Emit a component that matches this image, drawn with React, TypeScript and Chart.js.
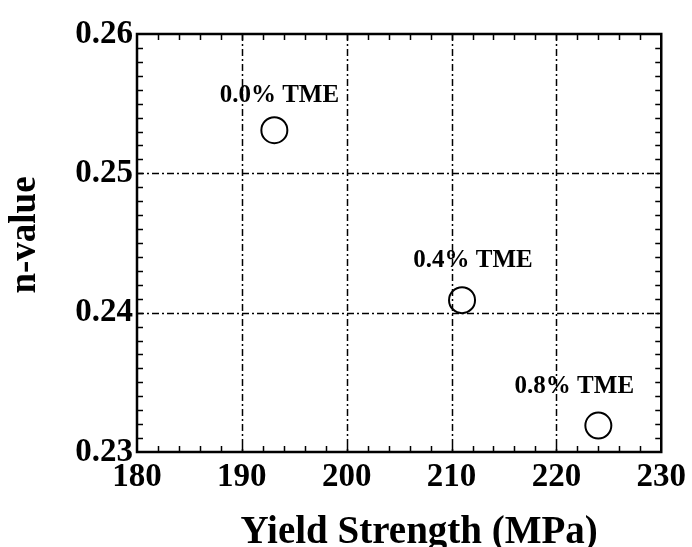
import React, { useEffect, useRef } from "react";
import { Chart, registerables } from "chart.js";

Chart.register(...registerables);

const yieldStrength = [193.1, 211.0, 224.0];
const nValue = [0.2531, 0.2409, 0.2319];
const pointLabels = ["0.0% TME", "0.4% TME", "0.8% TME"];
const xTicks = [180, 190, 200, 210, 220, 230];
const yTicks = [0.23, 0.24, 0.25, 0.26];
const xTitle = "Yield Strength (MPa)";
const yTitle = "n-value";

// pixel offsets of each annotation relative to its point
const labelOffsets = [
  [5, -28],
  [11, -33],
  [-24, -33],
];

const FONT = "'Liberation Serif', 'Times New Roman', serif";

const framePlugin = {
  id: "frame",
  beforeDatasetsDraw(chart: any) {
    const { ctx, chartArea: a, scales } = chart;
    const x = scales.x;
    const y = scales.y;
    ctx.save();
    ctx.strokeStyle = "#000";
    ctx.lineWidth = 1.5;
    ctx.setLineDash([7, 3, 2, 3]);
    for (const v of xTicks.slice(1, -1)) {
      const px = Math.round(x.getPixelForValue(v)) + 0.5;
      ctx.beginPath();
      ctx.moveTo(px, a.top);
      ctx.lineTo(px, a.bottom);
      ctx.stroke();
    }
    for (const v of yTicks.slice(1, -1)) {
      const py = Math.round(y.getPixelForValue(v)) + 0.5;
      ctx.beginPath();
      ctx.moveTo(a.left, py);
      ctx.lineTo(a.right, py);
      ctx.stroke();
    }
    ctx.setLineDash([]);
    ctx.lineWidth = 1.5;
    const xMin = xTicks[0];
    const xMax = xTicks[xTicks.length - 1];
    const nx = Math.round((xMax - xMin) / 2);
    for (let i = 1; i < nx; i++) {
      const v = xMin + i * 2;
      const px = Math.round(x.getPixelForValue(v)) + 0.5;
      ctx.beginPath();
      ctx.moveTo(px, a.top);
      ctx.lineTo(px, a.top + 6);
      ctx.moveTo(px, a.bottom);
      ctx.lineTo(px, a.bottom - 6);
      ctx.stroke();
    }
    const yMin = yTicks[0];
    const yMax = yTicks[yTicks.length - 1];
    const ny = Math.round((yMax - yMin) / 0.001);
    for (let i = 1; i < ny; i++) {
      const v = yMin + i * 0.001;
      const py = Math.round(y.getPixelForValue(v)) + 0.5;
      ctx.beginPath();
      ctx.moveTo(a.left, py);
      ctx.lineTo(a.left + 6, py);
      ctx.moveTo(a.right, py);
      ctx.lineTo(a.right - 6, py);
      ctx.stroke();
    }
    ctx.lineWidth = 2.5;
    ctx.strokeRect(a.left, a.top, a.right - a.left, a.bottom - a.top);
    ctx.restore();
  },
};

const labelPlugin = {
  id: "pointLabels",
  afterDatasetsDraw(chart: any) {
    const { ctx, scales, chartArea: a } = chart;
    ctx.save();
    ctx.fillStyle = "#000";
    ctx.font = `bold 25px ${FONT}`;
    ctx.textAlign = "center";
    ctx.textBaseline = "alphabetic";
    pointLabels.forEach((t, i) => {
      const px = scales.x.getPixelForValue(yieldStrength[i]);
      const py = scales.y.getPixelForValue(nValue[i]);
      ctx.fillText(t, px + labelOffsets[i][0], py + labelOffsets[i][1]);
    });
    // axis titles
    ctx.font = `bold 39px ${FONT}`;
    ctx.fillText(xTitle, (a.left + a.right) / 2 + 20, 543);
    ctx.font = `bold 37px ${FONT}`;
    ctx.translate(35, (a.top + a.bottom) / 2 - 8);
    ctx.rotate(-Math.PI / 2);
    ctx.fillText(yTitle, 0, 0);
    ctx.restore();
  },
};

export default function App() {
  const ref = useRef<HTMLCanvasElement | null>(null);

  useEffect(() => {
    if (!ref.current) return;
    const chart = new Chart(ref.current, {
      type: "scatter",
      data: {
        datasets: [
          {
            data: yieldStrength.map((v, i) => ({ x: v, y: nValue[i] })),
            pointRadius: 13,
            pointBorderWidth: 2,
            pointBorderColor: "#000",
            pointBackgroundColor: "rgba(0,0,0,0)",
            showLine: false,
          },
        ],
      },
      options: {
        responsive: false,
        animation: false,
        layout: { padding: { top: 34, right: 29, left: 0, bottom: 0 } },
        plugins: {
          legend: { display: false },
          tooltip: { enabled: false },
        },
        scales: {
          x: {
            type: "linear",
            min: xTicks[0],
            max: xTicks[xTicks.length - 1],
            afterBuildTicks: (s: any) => {
              s.ticks = xTicks.map((v) => ({ value: v }));
            },
            afterFit: (s: any) => {
              s.height = 95;
            },
            ticks: {
              color: "#000",
              padding: 6,
              maxRotation: 0,
              font: { family: FONT, size: 33, weight: "bold" },
              callback: (v: any) => String(v),
            },
            grid: { display: false, drawTicks: false },
            border: { display: false },
            title: { display: false },
          },
          y: {
            type: "linear",
            min: yTicks[0],
            max: yTicks[yTicks.length - 1],
            afterBuildTicks: (s: any) => {
              s.ticks = yTicks.map((v) => ({ value: v }));
            },
            afterFit: (s: any) => {
              s.width = 137;
            },
            ticks: {
              color: "#000",
              padding: 4,
              font: { family: FONT, size: 33, weight: "bold" },
              callback: (v: any) => Number(v).toFixed(2),
            },
            grid: { display: false, drawTicks: false },
            border: { display: false },
            title: { display: false },
          },
        },
      },
      plugins: [framePlugin, labelPlugin],
    } as any);
    return () => chart.destroy();
  }, []);

  return (
    <div style={{ position: "fixed", left: 0, top: 0, width: 692, height: 547, background: "#fff" }}>
      <canvas ref={ref} width={692} height={547} style={{ width: 692, height: 547, display: "block" }} />
    </div>
  );
}
